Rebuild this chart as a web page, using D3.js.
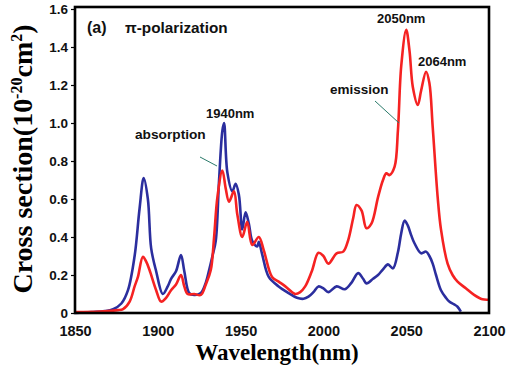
<!DOCTYPE html>
<html><head><meta charset="utf-8">
<script src="https://cdn.jsdelivr.net/npm/d3@7"></script>
<style>body{margin:0;background:#fff;}svg{display:block;}</style>
</head><body>
<svg id="c" width="510" height="367"></svg>
<script>
const absWl = [1850,1860,1868,1873,1878,1882,1886,1889,1891.5,1894,1896,1899,1903,1906,1908,1911,1914,1916,1919,1922,1926,1929,1931,1933,1935,1937,1939,1940,1942,1945,1947,1949,1951,1953,1955,1957,1960,1961,1963,1967,1973,1979,1984,1988,1991,1994,1997,2000,2003,2008,2013,2017,2021,2024,2026,2030,2033,2036,2039,2042,2045,2047,2049,2051,2053,2055,2059,2062,2064,2066,2068,2071,2074,2076,2079,2081,2083];
const absVal = [0.0,0.005,0.01,0.02,0.05,0.12,0.3,0.55,0.71,0.6,0.34,0.22,0.1,0.14,0.18,0.22,0.305,0.22,0.105,0.095,0.105,0.16,0.226,0.3,0.38,0.7,0.96,1.0,0.74,0.64,0.68,0.62,0.44,0.53,0.47,0.38,0.35,0.375,0.31,0.19,0.14,0.105,0.08,0.075,0.086,0.11,0.14,0.13,0.11,0.14,0.125,0.16,0.21,0.18,0.156,0.18,0.2,0.23,0.256,0.235,0.32,0.42,0.486,0.46,0.41,0.367,0.314,0.323,0.3,0.26,0.2,0.12,0.08,0.06,0.045,0.033,0.007];
const emiWl = [1850,1865,1872,1876,1879,1883,1886,1888,1891,1893,1895,1899,1902,1905,1908,1911,1914,1916,1918,1922,1926,1929,1932,1934,1936,1939,1941,1943,1946,1948,1951,1954,1957,1961,1964,1969,1973,1977,1983,1986,1989,1993,1997,2000,2003,2008,2012,2015,2018,2020,2023,2026,2029,2033,2036,2038,2040,2043,2045,2047,2050,2052,2054,2057,2059,2062,2064,2066,2069,2071,2075,2078,2081,2086,2091,2096,2100];
const emiVal = [0.005,0.008,0.012,0.015,0.02,0.06,0.14,0.19,0.296,0.27,0.226,0.12,0.06,0.08,0.12,0.15,0.2,0.14,0.1,0.1,0.095,0.15,0.226,0.4,0.61,0.75,0.656,0.586,0.64,0.52,0.4,0.48,0.358,0.4,0.33,0.19,0.165,0.14,0.1,0.11,0.14,0.22,0.317,0.3,0.26,0.314,0.323,0.384,0.5,0.568,0.54,0.446,0.47,0.61,0.7,0.735,0.726,0.77,0.96,1.3,1.49,1.38,1.19,1.095,1.17,1.27,1.21,0.98,0.61,0.44,0.26,0.2,0.165,0.13,0.095,0.072,0.07];
const xTicks = [1850,1900,1950,2000,2050,2100];
const yTicks = [0,0.2,0.4,0.6,0.8,1.0,1.2,1.4,1.6];

const svg = d3.select("#c");
const x = d3.scaleLinear().domain([1850,2100]).range([75,489]);
const y = d3.scaleLinear().domain([0,1.6]).range([313,9]);

const line = d3.line().x(d=>x(d[0])).y(d=>y(d[1])).curve(d3.curveCatmullRom.alpha(0.5));
const emi = emiWl.map((w,i)=>[w,emiVal[i]]);
const abs = absWl.map((w,i)=>[w,absVal[i]]);

svg.append("path").attr("d",line(abs)).attr("fill","none").attr("stroke","#2b2e9e").attr("stroke-width",2.6).attr("stroke-linejoin","round");
svg.append("path").attr("d",line(emi)).attr("fill","none").attr("stroke","#f52222").attr("stroke-width",2.6).attr("stroke-linejoin","round");

// frame
svg.append("rect").attr("x",75).attr("y",7).attr("width",414).attr("height",306)
  .attr("fill","none").attr("stroke","#000").attr("stroke-width",2.6);

// axes
const yAx = svg.append("g").attr("transform","translate(75,0)")
  .call(d3.axisLeft(y).tickValues(yTicks).tickFormat(d=>d===0?"0":d3.format(".1f")(d)).tickSize(4).tickPadding(3));
yAx.select(".domain").remove();
yAx.selectAll("text").attr("font-family","Liberation Sans, Arial, sans-serif").attr("font-weight","bold").attr("font-size",13.5).attr("fill","#111");
yAx.selectAll("line").attr("stroke","#000").attr("stroke-width",1.2);

const xAx = svg.append("g").attr("transform","translate(0,313)")
  .call(d3.axisBottom(x).tickValues(xTicks).tickFormat(d3.format("d")).tickSize(0).tickPadding(13));
xAx.select(".domain").remove();
xAx.selectAll("text").attr("font-family","Liberation Sans, Arial, sans-serif").attr("font-weight","bold").attr("font-size",14.5).attr("fill","#111");

// axis titles
svg.append("text").attr("x",277).attr("y",360).attr("text-anchor","middle")
  .attr("font-family","Liberation Serif, Times New Roman, serif").attr("font-weight","bold").attr("font-size",23)
  .text("Wavelength(nm)");
const yt = svg.append("text").attr("transform","translate(32,159) rotate(-90)").attr("text-anchor","middle")
  .attr("font-family","Liberation Serif, Times New Roman, serif").attr("font-weight","bold").attr("font-size",28);
yt.append("tspan").text("Cross section(10");
yt.append("tspan").attr("dy",-10).attr("font-size",16).text("-20");
yt.append("tspan").attr("dy",10).text("cm");
yt.append("tspan").attr("dy",-10).attr("font-size",16).text("2");
yt.append("tspan").attr("dy",10).text(")");

// annotations
const af = "Liberation Sans, Arial, sans-serif";
function ann(t,xx,yy,fs){svg.append("text").attr("x",xx).attr("y",yy).attr("font-family",af).attr("font-weight","bold").attr("font-size",fs).attr("fill","#111").text(t);}
ann("(a)",87,33,16);
ann("π-polarization",125,33,15.3);
ann("1940nm",206,118,13);
ann("absorption",135,139,13.7);
ann("2050nm",377,23,13);
ann("2064nm",418,66,13);
ann("emission",330,94,13.5);
svg.append("line").attr("x1",200).attr("y1",157).attr("x2",217).attr("y2",166).attr("stroke","#2a7a6a").attr("stroke-width",1);
svg.append("line").attr("x1",375).attr("y1",101).attr("x2",399).attr("y2",123).attr("stroke","#2a7a6a").attr("stroke-width",1);
</script>
</body></html>
